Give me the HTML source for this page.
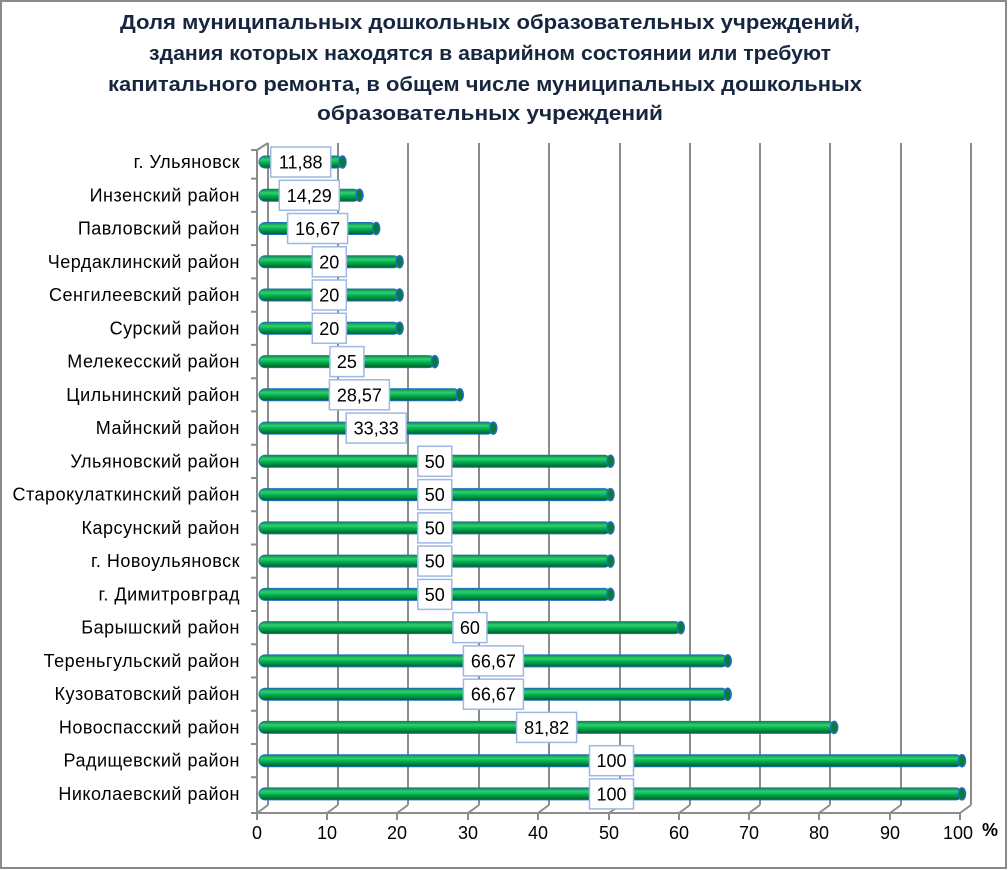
<!DOCTYPE html>
<html><head><meta charset="utf-8"><style>
html,body{margin:0;padding:0;background:#fff}
svg{display:block;font-family:"Liberation Sans","DejaVu Sans",sans-serif}
.c{font-size:18px;fill:#000;text-anchor:end;letter-spacing:0.5px}
.v{font-size:18px;fill:#000;text-anchor:middle}
.t{font-size:20px;font-weight:bold;fill:#17263f;text-anchor:middle}
.x{font-size:18px;fill:#000;text-anchor:middle}
.b{fill:#fff;stroke:#9db8e3;stroke-width:1.5}
</style></head><body>
<svg width="1008" height="870" viewBox="0 0 1008 870">
<defs>
<linearGradient id="g" x1="0" y1="0" x2="0" y2="1">
<stop offset="0" stop-color="#0a8a3e"/><stop offset="0.3" stop-color="#2fd070"/><stop offset="0.55" stop-color="#00b050"/><stop offset="1" stop-color="#005a25"/>
</linearGradient>
</defs>
<rect x="1" y="1" width="1005" height="867" fill="#fff" stroke="#8a8a8a" stroke-width="2"/>
<text class="t" x="490" y="29" textLength="740" lengthAdjust="spacingAndGlyphs">Доля муниципальных дошкольных образовательных учреждений,</text>
<text class="t" x="490" y="60" textLength="682" lengthAdjust="spacingAndGlyphs">здания которых находятся в аварийном состоянии или требуют</text>
<text class="t" x="485" y="91" textLength="754" lengthAdjust="spacingAndGlyphs">капитального ремонта, в общем числе муниципальных дошкольных</text>
<text class="t" x="490" y="120" textLength="346" lengthAdjust="spacingAndGlyphs">образовательных учреждений</text>
<g stroke="#8c8c8c" stroke-width="2" fill="none">
<line x1="268" y1="143" x2="268" y2="805"/>
<line x1="338" y1="143" x2="338" y2="805"/><line x1="408" y1="143" x2="408" y2="805"/>
<line x1="479" y1="143" x2="479" y2="805"/><line x1="549" y1="143" x2="549" y2="805"/>
<line x1="620" y1="143" x2="620" y2="805"/><line x1="690" y1="143" x2="690" y2="805"/>
<line x1="760" y1="143" x2="760" y2="805"/><line x1="830" y1="143" x2="830" y2="805"/>
<line x1="901" y1="143" x2="901" y2="805"/><line x1="971" y1="143" x2="971" y2="805"/>
<path d="M257 813 L268 805 M327 813 L338 805 M397 813 L408 805 M468 813 L479 805 M538 813 L549 805 M609 813 L620 805 M679 813 L690 805 M749 813 L760 805 M819 813 L830 805 M890 813 L901 805 M960 813 L971 805"/>
<line x1="257" y1="150" x2="257" y2="813"/><line x1="257" y1="150" x2="268" y2="143"/>
<line x1="257" y1="813" x2="960" y2="813"/>
<path d="M257 820 V813 M327 820 V813 M397 820 V813 M468 820 V813 M538 820 V813 M609 820 V813 M679 820 V813 M749 820 V813 M819 820 V813 M890 820 V813 M960 820 V813"/>
<path d="M251 150 H257 M251 178.6 H257 M251 211.9 H257 M251 245.1 H257 M251 278.4 H257 M251 311.7 H257 M251 344.9 H257 M251 378.2 H257 M251 411.4 H257 M251 444.7 H257 M251 478 H257 M251 511.2 H257 M251 544.5 H257 M251 577.7 H257 M251 611 H257 M251 644.3 H257 M251 677.5 H257 M251 710.8 H257 M251 744 H257 M251 777.3 H257 M251 813 H257"/>
</g>
<g class="x">
<text class="x" x="257" y="839">0</text><text class="x" x="327" y="839">10</text><text class="x" x="397" y="839">20</text><text class="x" x="468" y="839">30</text><text class="x" x="538" y="839">40</text><text class="x" x="609" y="839">50</text><text class="x" x="679" y="839">60</text><text class="x" x="749" y="839">70</text><text class="x" x="819" y="839">80</text><text class="x" x="890" y="839">90</text><text class="x" x="958" y="839">100</text>
</g>
<text x="982" y="836" font-size="18" font-weight="bold">%</text>

<g transform="translate(0,162)"><text class="c" x="240" y="6">г. Ульяновск</text><rect x="259" y="-6" width="83.5" height="12" rx="6" fill="url(#g)" stroke="#1f6fc0"/><ellipse cx="342.5" cy="0" rx="3.5" ry="6" fill="#0a7a3a" stroke="#1f6fc0" stroke-width="1.5"/><rect class="b" x="270.7" y="-15" width="60" height="30"/><text class="v" x="300.7" y="6.5">11,88</text></g>
<g transform="translate(0,195.3)"><text class="c" x="240" y="6">Инзенский район</text><rect x="259" y="-6" width="100.5" height="12" rx="6" fill="url(#g)" stroke="#1f6fc0"/><ellipse cx="359.5" cy="0" rx="3.5" ry="6" fill="#0a7a3a" stroke="#1f6fc0" stroke-width="1.5"/><rect class="b" x="279.3" y="-15" width="60" height="30"/><text class="v" x="309.3" y="6.5">14,29</text></g>
<g transform="translate(0,228.5)"><text class="c" x="240" y="6">Павловский район</text><rect x="259" y="-6" width="117.2" height="12" rx="6" fill="url(#g)" stroke="#1f6fc0"/><ellipse cx="376.2" cy="0" rx="3.5" ry="6" fill="#0a7a3a" stroke="#1f6fc0" stroke-width="1.5"/><rect class="b" x="287.6" y="-15" width="60" height="30"/><text class="v" x="317.6" y="6.5">16,67</text></g>
<g transform="translate(0,261.8)"><text class="c" x="240" y="6">Чердаклинский район</text><rect x="259" y="-6" width="140.6" height="12" rx="6" fill="url(#g)" stroke="#1f6fc0"/><ellipse cx="399.6" cy="0" rx="3.5" ry="6" fill="#0a7a3a" stroke="#1f6fc0" stroke-width="1.5"/><rect class="b" x="312.3" y="-15" width="34" height="30"/><text class="v" x="329.3" y="6.5">20</text></g>
<g transform="translate(0,295)"><text class="c" x="240" y="6">Сенгилеевский район</text><rect x="259" y="-6" width="140.6" height="12" rx="6" fill="url(#g)" stroke="#1f6fc0"/><ellipse cx="399.6" cy="0" rx="3.5" ry="6" fill="#0a7a3a" stroke="#1f6fc0" stroke-width="1.5"/><rect class="b" x="312.3" y="-15" width="34" height="30"/><text class="v" x="329.3" y="6.5">20</text></g>
<g transform="translate(0,328.3)"><text class="c" x="240" y="6">Сурский район</text><rect x="259" y="-6" width="140.6" height="12" rx="6" fill="url(#g)" stroke="#1f6fc0"/><ellipse cx="399.6" cy="0" rx="3.5" ry="6" fill="#0a7a3a" stroke="#1f6fc0" stroke-width="1.5"/><rect class="b" x="312.3" y="-15" width="34" height="30"/><text class="v" x="329.3" y="6.5">20</text></g>
<g transform="translate(0,361.6)"><text class="c" x="240" y="6">Мелекесский район</text><rect x="259" y="-6" width="175.8" height="12" rx="6" fill="url(#g)" stroke="#1f6fc0"/><ellipse cx="434.8" cy="0" rx="3.5" ry="6" fill="#0a7a3a" stroke="#1f6fc0" stroke-width="1.5"/><rect class="b" x="329.9" y="-15" width="34" height="30"/><text class="v" x="346.9" y="6.5">25</text></g>
<g transform="translate(0,394.8)"><text class="c" x="240" y="6">Цильнинский район</text><rect x="259" y="-6" width="200.8" height="12" rx="6" fill="url(#g)" stroke="#1f6fc0"/><ellipse cx="459.8" cy="0" rx="3.5" ry="6" fill="#0a7a3a" stroke="#1f6fc0" stroke-width="1.5"/><rect class="b" x="329.4" y="-15" width="60" height="30"/><text class="v" x="359.4" y="6.5">28,57</text></g>
<g transform="translate(0,428.1)"><text class="c" x="240" y="6">Майнский район</text><rect x="259" y="-6" width="234.3" height="12" rx="6" fill="url(#g)" stroke="#1f6fc0"/><ellipse cx="493.3" cy="0" rx="3.5" ry="6" fill="#0a7a3a" stroke="#1f6fc0" stroke-width="1.5"/><rect class="b" x="346.2" y="-15" width="60" height="30"/><text class="v" x="376.2" y="6.5">33,33</text></g>
<g transform="translate(0,461.3)"><text class="c" x="240" y="6">Ульяновский район</text><rect x="259" y="-6" width="351.5" height="12" rx="6" fill="url(#g)" stroke="#1f6fc0"/><ellipse cx="610.5" cy="0" rx="3.5" ry="6" fill="#0a7a3a" stroke="#1f6fc0" stroke-width="1.5"/><rect class="b" x="417.8" y="-15" width="34" height="30"/><text class="v" x="434.8" y="6.5">50</text></g>
<g transform="translate(0,494.6)"><text class="c" x="240" y="6">Старокулаткинский район</text><rect x="259" y="-6" width="351.5" height="12" rx="6" fill="url(#g)" stroke="#1f6fc0"/><ellipse cx="610.5" cy="0" rx="3.5" ry="6" fill="#0a7a3a" stroke="#1f6fc0" stroke-width="1.5"/><rect class="b" x="417.8" y="-15" width="34" height="30"/><text class="v" x="434.8" y="6.5">50</text></g>
<g transform="translate(0,527.9)"><text class="c" x="240" y="6">Карсунский район</text><rect x="259" y="-6" width="351.5" height="12" rx="6" fill="url(#g)" stroke="#1f6fc0"/><ellipse cx="610.5" cy="0" rx="3.5" ry="6" fill="#0a7a3a" stroke="#1f6fc0" stroke-width="1.5"/><rect class="b" x="417.8" y="-15" width="34" height="30"/><text class="v" x="434.8" y="6.5">50</text></g>
<g transform="translate(0,561.1)"><text class="c" x="240" y="6">г. Новоульяновск</text><rect x="259" y="-6" width="351.5" height="12" rx="6" fill="url(#g)" stroke="#1f6fc0"/><ellipse cx="610.5" cy="0" rx="3.5" ry="6" fill="#0a7a3a" stroke="#1f6fc0" stroke-width="1.5"/><rect class="b" x="417.8" y="-15" width="34" height="30"/><text class="v" x="434.8" y="6.5">50</text></g>
<g transform="translate(0,594.4)"><text class="c" x="240" y="6">г. Димитровград</text><rect x="259" y="-6" width="351.5" height="12" rx="6" fill="url(#g)" stroke="#1f6fc0"/><ellipse cx="610.5" cy="0" rx="3.5" ry="6" fill="#0a7a3a" stroke="#1f6fc0" stroke-width="1.5"/><rect class="b" x="417.8" y="-15" width="34" height="30"/><text class="v" x="434.8" y="6.5">50</text></g>
<g transform="translate(0,627.6)"><text class="c" x="240" y="6">Барышский район</text><rect x="259" y="-6" width="421.8" height="12" rx="6" fill="url(#g)" stroke="#1f6fc0"/><ellipse cx="680.8" cy="0" rx="3.5" ry="6" fill="#0a7a3a" stroke="#1f6fc0" stroke-width="1.5"/><rect class="b" x="452.9" y="-15" width="34" height="30"/><text class="v" x="469.9" y="6.5">60</text></g>
<g transform="translate(0,660.9)"><text class="c" x="240" y="6">Тереньгульский район</text><rect x="259" y="-6" width="468.7" height="12" rx="6" fill="url(#g)" stroke="#1f6fc0"/><ellipse cx="727.7" cy="0" rx="3.5" ry="6" fill="#0a7a3a" stroke="#1f6fc0" stroke-width="1.5"/><rect class="b" x="463.4" y="-15" width="60" height="30"/><text class="v" x="493.4" y="6.5">66,67</text></g>
<g transform="translate(0,694.2)"><text class="c" x="240" y="6">Кузоватовский район</text><rect x="259" y="-6" width="468.7" height="12" rx="6" fill="url(#g)" stroke="#1f6fc0"/><ellipse cx="727.7" cy="0" rx="3.5" ry="6" fill="#0a7a3a" stroke="#1f6fc0" stroke-width="1.5"/><rect class="b" x="463.4" y="-15" width="60" height="30"/><text class="v" x="493.4" y="6.5">66,67</text></g>
<g transform="translate(0,727.4)"><text class="c" x="240" y="6">Новоспасский район</text><rect x="259" y="-6" width="575.2" height="12" rx="6" fill="url(#g)" stroke="#1f6fc0"/><ellipse cx="834.2" cy="0" rx="3.5" ry="6" fill="#0a7a3a" stroke="#1f6fc0" stroke-width="1.5"/><rect class="b" x="516.6" y="-15" width="60" height="30"/><text class="v" x="546.6" y="6.5">81,82</text></g>
<g transform="translate(0,760.7)"><text class="c" x="240" y="6">Радищевский район</text><rect x="259" y="-6" width="703" height="12" rx="6" fill="url(#g)" stroke="#1f6fc0"/><ellipse cx="962" cy="0" rx="3.5" ry="6" fill="#0a7a3a" stroke="#1f6fc0" stroke-width="1.5"/><rect class="b" x="589.5" y="-15" width="44" height="30"/><text class="v" x="611.5" y="6.5">100</text></g>
<g transform="translate(0,793.9)"><text class="c" x="240" y="6">Николаевский район</text><rect x="259" y="-6" width="703" height="12" rx="6" fill="url(#g)" stroke="#1f6fc0"/><ellipse cx="962" cy="0" rx="3.5" ry="6" fill="#0a7a3a" stroke="#1f6fc0" stroke-width="1.5"/><rect class="b" x="589.5" y="-15" width="44" height="30"/><text class="v" x="611.5" y="6.5">100</text></g>
</svg>
</body></html>
